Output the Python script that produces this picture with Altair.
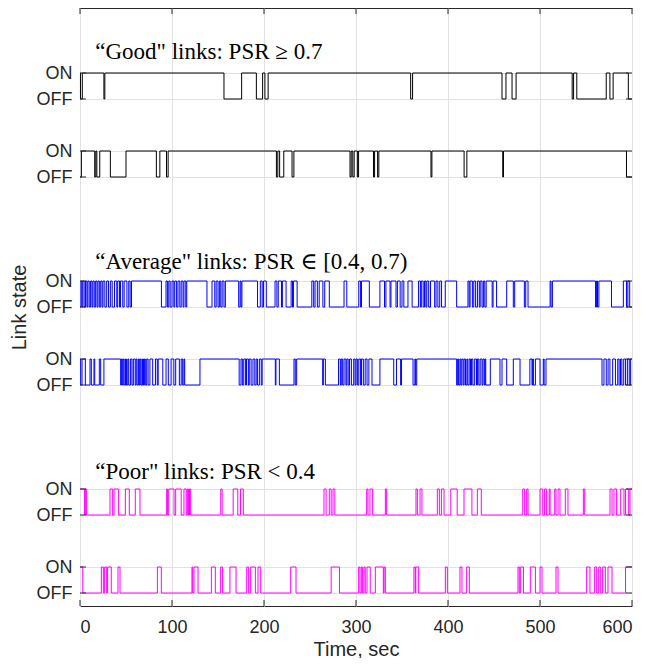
import altair as alt
import pandas as pd

# ---- data: time intervals (sec) ----
# "Good" rows: intervals where the link is OFF (otherwise ON)
good1_off = [[0.5, 2.5], [26, 27], [156.5, 175.7], [191.7, 198.5], [201, 204.5],
             [359.4, 361.5], [458.7, 463], [469.6, 474], [535, 536.5], [540, 572],
             [576, 579.5], [596, 600]]
good2_off = [[0, 1.5], [16, 17.2], [18.3, 21.5], [33, 50], [83, 86.8], [94, 95.8],
             [213.5, 215], [217, 221.5], [230.5, 232.5], [293.5, 294.8], [296.5, 298],
             [301.5, 302.8], [319, 320.2], [323.5, 324.8], [381.5, 382.5], [417.5, 420.5],
             [459.5, 460.3], [594, 600]]
# "Average" rows: OFF intervals
avg1_off = [[0, 1], [2, 3], [4.5, 6], [7.5, 8.5], [10, 11.5], [13, 14], [15.5, 17], [18.5, 19.5],
            [21, 22.5], [24, 25], [27, 29], [31, 33], [35, 37.5], [40, 41], [43, 44], [46.5, 48],
            [51, 53], [54.5, 56], [88.5, 93.5], [95, 96.5], [98, 100], [102, 103], [105, 106.5],
            [108.5, 110], [112, 113], [115, 116], [138, 143.5], [146.5, 148], [150, 151.5],
            [153, 154.5], [156.5, 158], [172.5, 174], [175, 176], [193, 196], [198, 199.5],
            [202.5, 212], [214, 215.5], [219, 220], [224, 229.5], [231, 232], [236, 252],
            [254, 255.5], [258, 260], [264, 266], [271, 287], [290, 303], [305, 306],
            [314.5, 326], [331, 332.5], [337, 338], [343.5, 345], [348, 350], [352, 356.5],
            [361, 368], [370, 371], [373, 374.5], [376, 377], [379, 381], [385.5, 387],
            [389, 391], [393, 397], [409.4, 421.7], [423, 424], [426.5, 428], [430, 432],
            [434, 435], [437, 438.5], [440, 441.5], [448, 449], [452.8, 463.8], [471, 472.5],
            [483, 484.5], [487, 511], [512, 513.5], [560.4, 561.5], [562.5, 564],
            [577.7, 590.6], [594, 595.5], [597.5, 600]]
avg2_off = [[0.7, 2.2], [5.8, 10.9], [12.3, 15.2], [16, 21], [22.5, 26], [44.2, 45], [46, 47],
            [48, 49.5], [50.5, 52], [53, 55], [56.5, 58], [60, 61], [62, 63.5], [64.5, 65.5],
            [66.5, 68], [69, 70], [71, 72.5], [74, 76], [79, 82], [84, 85], [90, 93.5], [96, 99],
            [102, 104], [108, 110], [111.6, 113], [113.8, 130.4], [173, 175], [176.5, 178],
            [180, 181], [183, 184], [186, 188], [190, 191.5], [193, 195], [197, 198],
            [212.3, 213], [216.7, 232.6], [234, 235.5], [263.8, 264.5], [266.7, 281],
            [283, 284], [285.5, 287], [289, 290], [291.5, 293], [295, 297.5], [299, 300],
            [301.5, 303], [305, 306], [308, 310], [312, 314], [317.4, 326], [341, 344],
            [348.5, 349.5], [362, 364], [364.8, 366], [409.4, 410.5], [411.5, 413], [414, 415],
            [416.5, 417.5], [419, 420.5], [421.5, 423], [424.5, 425.5], [427, 429], [431, 432],
            [433.5, 435], [437, 438], [439.5, 440.3], [441, 446], [456.5, 458.7], [463.8, 471],
            [478.3, 489], [491.3, 492], [492.8, 495], [500, 503.6], [504.5, 506.5],
            [567.4, 569.5], [572, 574], [576, 579], [582, 584.5], [586, 587.5], [589, 591],
            [593, 595], [597, 598.5]]
# "Poor" rows: intervals where the link is ON (otherwise OFF)
poor1_on = [[0, 5], [5.8, 7.2], [32.6, 35.5], [37, 42], [49.3, 53.6], [60.1, 65.2], [94.2, 95.2],
            [96.4, 102.2], [104, 110], [113, 115.5], [116.7, 118], [119, 120.3], [153, 154.5],
            [166.5, 171.5], [174.5, 177.5], [265.2, 267.5], [271, 273], [275, 277],
            [311.6, 313], [315.2, 318.1], [331.9, 333.3], [365.2, 366.7], [369.6, 371.7],
            [388.4, 390.6], [392.8, 395.7], [403, 410], [417.4, 426], [431.9, 436.2],
            [481.2, 483.3], [485.5, 487], [500, 503], [505, 507.2], [510, 511], [516, 517.4],
            [519.6, 521.7], [527.5, 530.4], [547.1, 548.6], [576.1, 578.3], [580.4, 583.3],
            [587.7, 591.3], [593, 596.4], [597.8, 600]]
poor2_on = [[0, 3], [23.2, 25.4], [26.8, 29], [30, 34], [41.3, 43.5], [84.1, 88.4],
            [121.7, 122.5], [123.9, 128.3], [142.8, 147.1], [152.9, 155], [163, 169.6],
            [181.2, 183.3], [185.5, 190.6], [193.5, 196.4], [229, 234.8], [273, 282],
            [302.9, 304.3], [305.8, 307.2], [308.7, 310.1], [312, 315.5], [321, 329.7],
            [330.5, 331.9], [363, 364.5], [365, 368.1], [397.1, 399.3], [413, 415.2],
            [420.3, 423.2], [476.1, 477.5], [479, 482], [489.5, 495], [500, 502.2],
            [517.4, 519.6], [550.7, 554.3], [559.4, 561.6], [563.8, 566], [568.1, 571],
            [573.9, 578.3], [593, 600]]

row_names = ["good1", "good2", "avg1", "avg2", "poor1", "poor2"]
row_base = [19, 16, 11, 8, 3, 0]          # OFF level of each row (ON = base + 1)
row_kind = ["off", "off", "off", "off", "on", "on"]
row_colors = ["#000000", "#000000", "#0000ff", "#0000ff", "#ff00ff", "#ff00ff"]
row_data = [good1_off, good2_off, avg1_off, avg2_off, poor1_on, poor2_on]

x_ticks = [0, 100, 200, 300, 400, 500, 600]
y_ticks = [0, 1, 3, 4, 8, 9, 11, 12, 16, 17, 19, 20]
on_levels = [1, 4, 9, 12, 17, 20]

ann_text = ['\u201cGood" links: PSR \u2265 0.7',
            '\u201cAverage" links: PSR \u2208 [0.4, 0.7)',
            '\u201cPoor" links: PSR < 0.4']
ann_x = [16.6, 16.6, 16.6]
ann_y = [20.55, 12.48, 4.39]

W, H = 552, 598

# ---- build step series ----
recs = []
for name, base, kind, ivals in zip(row_names, row_base, row_kind, row_data):
    iv = sorted(ivals)
    default = base + 1 if kind == "off" else base
    pulse = base if kind == "off" else base + 1
    i = 0
    state = pulse if iv[0][0] <= 0 else default
    recs.append({"row": name, "t": 0.0, "v": state, "i": i}); i += 1
    last = state
    for s, e in iv:
        if s > 0:
            recs.append({"row": name, "t": s, "v": pulse, "i": i}); i += 1
        last = pulse
        if e < 600:
            recs.append({"row": name, "t": e, "v": default, "i": i}); i += 1
            last = default
    recs.append({"row": name, "t": 600.0, "v": last, "i": i})
df = pd.DataFrame(recs)

xscale = alt.Scale(domain=[0, 600], nice=False, zero=False)
yscale = alt.Scale(domain=[-0.5, 22.5], nice=False, zero=False)

axis_common = dict(domain=False, ticks=False, labelFont="Liberation Sans", labelFontSize=18,
                   labelColor="#262626", titleFont="Liberation Sans", titleFontSize=20,
                   titleFontWeight="normal", titleColor="#262626", grid=True,
                   gridColor="#e2e2e2", gridWidth=1)

lines = alt.Chart(df).mark_line(interpolate="step-after", strokeWidth=1).encode(
    x=alt.X("t:Q", scale=xscale,
            axis=alt.Axis(values=x_ticks, title="Time, sec", labelPadding=12, titlePadding=3,
                          **axis_common)),
    y=alt.Y("v:Q", scale=yscale,
            axis=alt.Axis(values=y_ticks, title="Link state", labelPadding=8, titlePadding=7,
                          labelExpr="indexof(" + str(on_levels) + ", datum.value) >= 0 ? 'ON' : 'OFF'",
                          **axis_common)),
    detail="row:N",
    color=alt.Color("row:N", scale=alt.Scale(domain=row_names, range=row_colors), legend=None),
    order="i:Q",
)

xt = pd.DataFrame({"t": x_ticks})
yt = pd.DataFrame({"v": y_ticks})
tick_color = "#262626"
bot_ticks = alt.Chart(xt).mark_rule(color=tick_color).encode(
    x=alt.X("t:Q", scale=xscale), y=alt.value(H), y2=alt.value(H - 6))
top_ticks = alt.Chart(xt).mark_rule(color=tick_color).encode(
    x=alt.X("t:Q", scale=xscale), y=alt.value(0), y2=alt.value(6))
left_ticks = alt.Chart(yt).mark_rule(color=tick_color).encode(
    y=alt.Y("v:Q", scale=yscale), x=alt.value(0), x2=alt.value(6))
right_ticks = alt.Chart(yt).mark_rule(color=tick_color).encode(
    y=alt.Y("v:Q", scale=yscale), x=alt.value(W - 6), x2=alt.value(W))

ann = alt.Chart(pd.DataFrame({"x": ann_x, "y": ann_y, "text": ann_text})).mark_text(
    align="left", baseline="alphabetic", font="'Liberation Serif', 'DejaVu Serif', serif",
    fontSize=23, color="#000000"
).encode(x=alt.X("x:Q", scale=xscale), y=alt.Y("y:Q", scale=yscale), text="text:N")

chart = alt.layer(lines, bot_ticks, top_ticks, left_ticks, right_ticks, ann).properties(
    width=W, height=H,
    autosize=alt.AutoSizeParams(type="none"),
    padding={"left": 72, "top": 0, "right": 6, "bottom": 52},
).configure_view(stroke="#262626", strokeWidth=1)

chart.save("out.html", embed_options={"renderer": "svg", "actions": False})
